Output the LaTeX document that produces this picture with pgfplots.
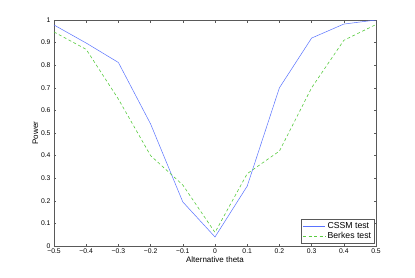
\documentclass[border=0pt]{standalone}
\usepackage{fontspec}
\setmainfont{Liberation Sans}
\usepackage{pgfplots}
\pgfplotsset{compat=1.18}
\definecolor{mblue}{rgb}{0.35,0.45,1}
\definecolor{mgreen}{rgb}{0.35,0.8,0.25}
\begin{document}
\begin{tikzpicture}[x=1pt,y=1pt]
\useasboundingbox[fill=white] (-54,-31) rectangle (361,246);
\begin{axis}[
  at={(0,0)}, anchor=south west,
  scale only axis, width=322pt, height=226pt,
  xmin=-0.5, xmax=0.5, ymin=0, ymax=1,
  xtick={-0.5,-0.4,-0.3,-0.2,-0.1,0,0.1,0.2,0.3,0.4,0.5},
  xticklabels={−0.5,−0.4,−0.3,−0.2,−0.1,0,0.1,0.2,0.3,0.4,0.5},
  ytick={0,0.1,0.2,0.3,0.4,0.5,0.6,0.7,0.8,0.9,1},
  yticklabels={0,0.1,0.2,0.3,0.4,0.5,0.6,0.7,0.8,0.9,1},
  tick align=inside, major tick length=2.5pt,
  axis line style={gray!70!black, line width=0.8pt},
  tick style={gray!70!black, line width=0.5pt},
  every tick label/.append style={font=\fontsize{6.8}{7}\selectfont},
  xticklabel style={yshift=1pt},
  xlabel={Alternative theta}, ylabel={Power},
  label style={font=\fontsize{8}{9}\selectfont},
  xlabel style={yshift=4pt},
  ylabel style={yshift=-4pt},
  legend style={at={(0.995,0.012)}, anchor=south east, font=\fontsize{8.7}{9.5}\selectfont,
    draw=gray!70!black, line width=0.6pt, inner sep=1pt, row sep=-1.5pt},
  legend image post style={xscale=1.3},
  legend cell align=left,
]
\addplot[mblue, line width=0.5pt] coordinates {
(-0.5,0.978) (-0.4,0.898) (-0.3,0.812) (-0.2,0.54) (-0.1,0.195) (0,0.04)
(0.1,0.265) (0.2,0.70) (0.3,0.92) (0.4,0.982) (0.5,1.0)};
\addlegendentry{CSSM test}
\addplot[mgreen, line width=0.6pt, dash pattern=on 3pt off 2.5pt] coordinates {
(-0.5,0.947) (-0.4,0.87) (-0.3,0.65) (-0.2,0.40) (-0.1,0.27) (0,0.06)
(0.1,0.32) (0.2,0.42) (0.3,0.70) (0.4,0.91) (0.5,0.98)};
\addlegendentry{Berkes test}
\end{axis}
\end{tikzpicture}
\end{document}
